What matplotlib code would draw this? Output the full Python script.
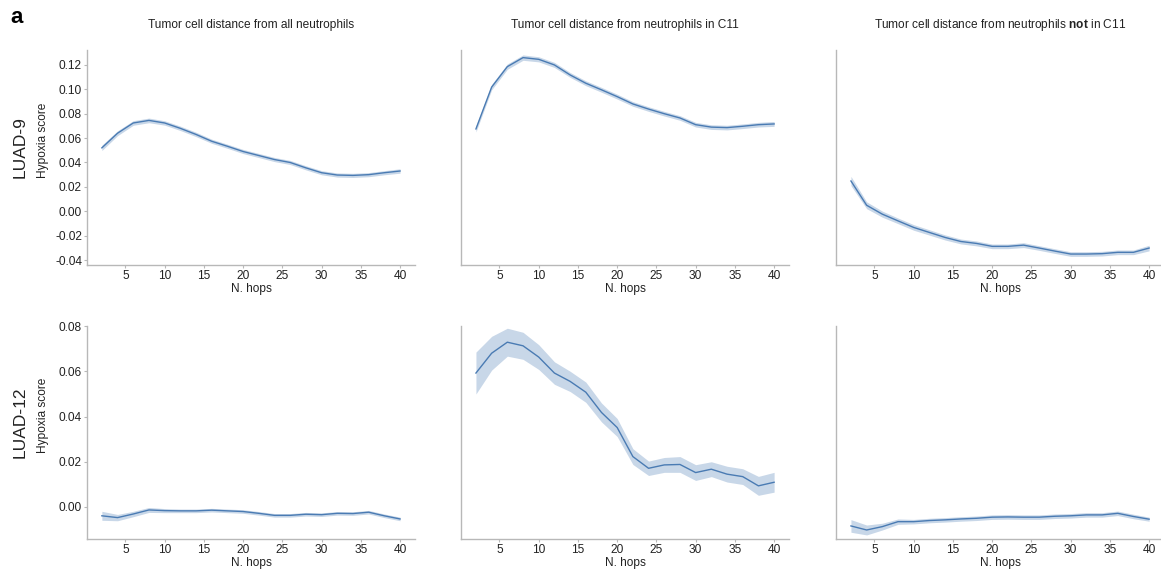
import matplotlib
matplotlib.use("Agg")
import matplotlib.pyplot as plt
import numpy as np

plt.rcParams['font.family'] = ['Liberation Sans', 'DejaVu Sans']
plt.rcParams['mathtext.fontset'] = 'custom'
plt.rcParams['mathtext.rm'] = 'Liberation Sans'
plt.rcParams['mathtext.bf'] = 'Liberation Sans:bold'

# number of hops
hops = [2, 4, 6, 8, 10, 12, 14, 16, 18, 20, 22, 24, 26, 28, 30, 32, 34, 36, 38, 40]

# LUAD-9
luad9_all = [0.052, 0.064, 0.0724, 0.0745, 0.0724, 0.068, 0.063, 0.0574, 0.0533, 0.049,
             0.0457, 0.0424, 0.040, 0.0356, 0.0316, 0.0297, 0.0294, 0.030, 0.0316, 0.033]
luad9_all_ci = [0.0022, 0.002, 0.0019, 0.0019, 0.0018, 0.0018, 0.0018, 0.0017, 0.0017, 0.0017,
                0.0017, 0.0017, 0.0017, 0.0017, 0.0017, 0.0017, 0.0017, 0.0017, 0.0017, 0.0018]
luad9_c11 = [0.0675, 0.1018, 0.1186, 0.126, 0.1246, 0.120, 0.1118, 0.105, 0.0996, 0.094,
             0.088, 0.0838, 0.080, 0.0765, 0.071, 0.069, 0.0686, 0.0697, 0.071, 0.0716]
luad9_c11_ci = [0.0025, 0.0022, 0.0022, 0.0022, 0.0021, 0.0021, 0.002, 0.002, 0.002, 0.002,
                0.0019, 0.0019, 0.0019, 0.0019, 0.0019, 0.0019, 0.0019, 0.0019, 0.0019, 0.002]
luad9_not = [0.0248, 0.0049, -0.0024, -0.0079, -0.0133, -0.0174, -0.0215, -0.0248, -0.0264, -0.0288,
             -0.0288, -0.0278, -0.0302, -0.0327, -0.0351, -0.0351, -0.0348, -0.0337, -0.0337, -0.0302]
luad9_not_ci = [0.0038, 0.0028, 0.0025, 0.0023, 0.0023, 0.0022, 0.0021, 0.002, 0.002, 0.0019,
                0.0019, 0.002, 0.0019, 0.0019, 0.0019, 0.0019, 0.0019, 0.0019, 0.0019, 0.0023]

# LUAD-12
luad12_all = [-0.0041, -0.0049, -0.0033, -0.0015, -0.0018, -0.0019, -0.0019, -0.0016, -0.0019, -0.0022,
              -0.003, -0.0039, -0.0039, -0.0034, -0.0036, -0.003, -0.0031, -0.0025, -0.0041, -0.0055]
luad12_all_ci = [0.002, 0.0014, 0.0012, 0.0011, 0.0009, 0.0008, 0.0008, 0.0008, 0.0008, 0.0008,
                 0.0008, 0.0008, 0.0008, 0.0008, 0.0008, 0.0008, 0.0008, 0.0008, 0.0008, 0.0008]
luad12_c11 = [0.0593, 0.0681, 0.073, 0.0714, 0.0664, 0.0593, 0.0556, 0.0508, 0.0418, 0.0351,
              0.0222, 0.017, 0.0185, 0.0187, 0.0151, 0.0166, 0.0144, 0.0133, 0.0092, 0.0108]
luad12_c11_ci = [0.0093, 0.0075, 0.0062, 0.006, 0.0055, 0.005, 0.0045, 0.0045, 0.0042, 0.004,
                 0.0035, 0.0032, 0.0033, 0.0035, 0.0035, 0.0033, 0.0035, 0.0035, 0.0042, 0.0044]
luad12_not = [-0.0086, -0.0104, -0.0089, -0.0067, -0.0067, -0.0062, -0.0059, -0.0055, -0.0052, -0.0047,
              -0.0046, -0.0047, -0.0047, -0.0043, -0.0041, -0.0037, -0.0037, -0.003, -0.0044, -0.0056]
luad12_not_ci = [0.0028, 0.0022, 0.0015, 0.0012, 0.001, 0.001, 0.001, 0.001, 0.001, 0.001,
                 0.001, 0.001, 0.001, 0.001, 0.001, 0.001, 0.001, 0.001, 0.001, 0.0009]

titles = ["Tumor cell distance from all neutrophils",
          "Tumor cell distance from neutrophils in C11",
          r"Tumor cell distance from neutrophils $\mathbf{not}$ in C11"]
samples = ["LUAD-9", "LUAD-12"]
rows = [[(luad9_all, luad9_all_ci), (luad9_c11, luad9_c11_ci), (luad9_not, luad9_not_ci)],
        [(luad12_all, luad12_all_ci), (luad12_c11, luad12_c11_ci), (luad12_not, luad12_not_ci)]]
ylims = [(-0.0441, 0.1323), (-0.0144, 0.0802)]
yticks = [np.arange(-0.04, 0.121, 0.02), np.arange(0.0, 0.081, 0.02)]

line_col = '#4a7bb3'
spine_col = '#b8b8b8'
text_col = '#222222'
fs = 8.6

fig = plt.figure(figsize=(11.61, 5.72), dpi=100)

lefts = [0.0749, 0.3971, 0.7201]
bottoms = [0.5367, 0.0577]
w = 0.2825
hs = [0.376, 0.3724]

x = np.array(hops)
for r in range(2):
    for c in range(3):
        ax = fig.add_axes([lefts[c], bottoms[r], w, hs[r]])
        y, ci = rows[r][c]
        y = np.array(y)
        ci = np.array(ci)
        ax.fill_between(x, y - ci, y + ci, color=line_col, alpha=0.3, lw=0)
        ax.plot(x, y, color=line_col, lw=1)
        ax.set_xlim(0.1, 41.9)
        ax.set_ylim(*ylims[r])
        ax.set_xticks([5, 10, 15, 20, 25, 30, 35, 40])
        ax.set_yticks(yticks[r])
        for s in ['top', 'right']:
            ax.spines[s].set_visible(False)
        for s in ['left', 'bottom']:
            ax.spines[s].set_color(spine_col)
            ax.spines[s].set_linewidth(1)
        ax.tick_params(length=2, width=0.8, color=spine_col, labelcolor=text_col,
                       labelsize=fs, pad=1.5)
        ax.set_xlabel("N. hops", fontsize=fs, color=text_col, labelpad=0.5)
        if c == 0:
            ax.yaxis.set_major_formatter(matplotlib.ticker.FormatStrFormatter('%.2f'))
            ax.set_ylabel("Hypoxia score", fontsize=fs, color=text_col)
            ax.yaxis.set_label_coords(-0.117, 0.58)
            ax.text(-0.205, 0.55, samples[r], transform=ax.transAxes, rotation=90,
                    fontsize=12.5, ha='center', va='center', color=text_col)
        else:
            ax.set_yticklabels([])
            ax.tick_params(axis='y', left=False)
        if r == 0:
            ax.set_title(titles[c], fontsize=fs, color=text_col, pad=16)

fig.text(0.009, 0.97, "a", fontsize=16, fontweight='bold', ha='left', va='center')

fig.savefig("out.png", dpi=100)
